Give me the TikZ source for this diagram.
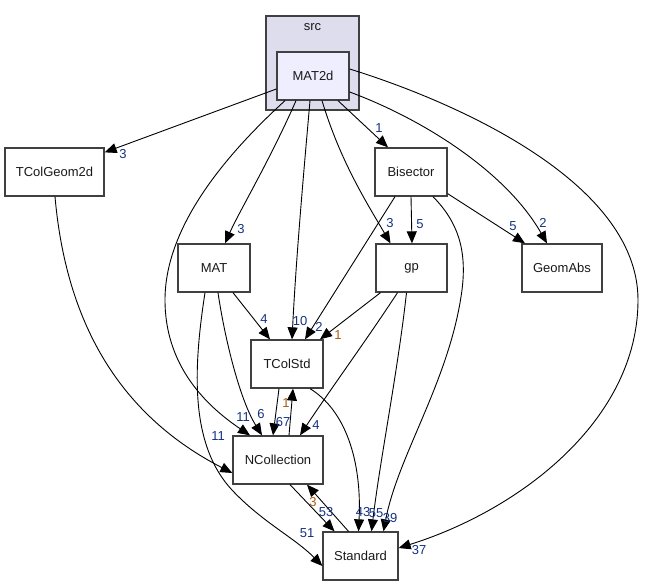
\documentclass[tikz,border=0pt]{standalone}
\usepackage{fontspec}
\setmainfont{Liberation Sans}
\usetikzlibrary{arrows.meta}
\definecolor{lblue}{RGB}{20,50,130}
\definecolor{lorange}{RGB}{170,90,20}
\definecolor{boxgray}{RGB}{64,64,64}
\definecolor{clusterfill}{RGB}{221,221,238}
\definecolor{dirfill}{RGB}{238,238,255}
\tikzset{
  dirbox/.style={draw=boxgray, line width=1.3pt, fill=white, minimum height=48pt, inner sep=0pt, font=\fontsize{13}{15}\selectfont, text=black!90},
  dep/.style={draw=black, line width=0.9pt, -{Triangle[length=12pt,width=10pt]}},
  lbl/.style={text=lblue, font=\fontsize{13}{15}\selectfont, inner sep=0pt},
  lblo/.style={text=lorange, font=\fontsize{13}{15}\selectfont, inner sep=0pt}
}
\begin{document}
\begin{tikzpicture}[x=1pt,y=-1pt]
\useasboundingbox (0,0) rectangle (645,585);
% cluster
\node[draw=boxgray, line width=1.3pt, fill=clusterfill, minimum width=93pt, minimum height=94pt, inner sep=0pt] (src) at (312.5,63) {};
\node[text=black!90, font=\fontsize{13}{15}\selectfont, inner sep=0pt] (srclbl) at (312.5,27) {src};
% nodes
\node[dirbox, fill=dirfill, minimum width=72pt] (MAT2d) at (313,76) {MAT2d};
\node[dirbox, minimum width=99pt] (TColGeom2d) at (54.5,172) {TColGeom2d};
\node[dirbox, minimum width=72pt] (Bisector) at (411,172) {Bisector};
\node[dirbox, minimum width=72pt] (MAT) at (214,268) {MAT};
\node[dirbox, minimum width=71pt] (gp) at (411.5,268) {gp};
\node[dirbox, minimum width=80pt] (GeomAbs) at (562,268) {GeomAbs};
\node[dirbox, minimum width=72pt] (TColStd) at (287,364) {TColStd};
\node[dirbox, minimum width=90pt] (NCollection) at (278,460) {NCollection};
\node[dirbox, minimum width=75pt] (Standard) at (360.5,556) {Standard};

% MAT2d edges
\draw[dep] ([yshift=-13pt]MAT2d.west) -- ([yshift=-5pt]TColGeom2d.north east);
\draw[dep] ([xshift=-17pt]MAT2d.south) .. controls (270,160) and (240,210) .. ([xshift=11pt]MAT.north);
\draw[dep] ([xshift=-28pt]MAT2d.south) .. controls (220,160) and (165,230) .. (165,300) .. controls (165,365) and (205,405) .. ([xshift=-28pt]NCollection.north);
\draw[dep] ([xshift=-3pt]MAT2d.south) .. controls (303,180) and (296,260) .. ([xshift=5pt]TColStd.north);
\draw[dep] ([xshift=9pt]MAT2d.south) .. controls (340,160) and (365,200) .. ([xshift=-21pt]gp.north);
\draw[dep] ([xshift=25pt]MAT2d.south) -- ([xshift=-23pt]Bisector.north);
\draw[dep] ([yshift=-16pt]MAT2d.east) .. controls (420,118) and (505,170) .. ([xshift=-15pt]GeomAbs.north);
\draw[dep] ([yshift=7pt]MAT2d.east) .. controls (450,100) and (638,180) .. (638,300) .. controls (638,420) and (520,510) .. ([yshift=8pt]Standard.east);

% Bisector edges
\draw[dep] (Bisector.south) -- ([xshift=0.5pt]gp.north);
\draw[dep] ([yshift=3pt]Bisector.south east) -- ([xshift=-37pt]GeomAbs.north);
\draw[dep] ([xshift=-16pt]Bisector.south) -- ([xshift=18pt]TColStd.north);
\draw[dep] ([xshift=22pt]Bisector.south) .. controls (458,222) and (467,250) .. (462,290) .. controls (450,380) and (398,455) .. ([xshift=23pt]Standard.north);

% gp edges
\draw[dep] ([xshift=-31pt]gp.south) -- ([xshift=33pt]TColStd.north);
\draw[dep] ([xshift=-14pt]gp.south) .. controls (370,335) and (330,390) .. ([xshift=22pt]NCollection.north);
\draw[dep] ([xshift=-5pt]gp.south) .. controls (398,370) and (380,460) .. ([xshift=11pt]Standard.north);

% MAT edges
\draw[dep] ([xshift=19pt]MAT.south) -- ([xshift=-17pt]TColStd.north);
\draw[dep] ([xshift=4pt]MAT.south) .. controls (225,340) and (240,400) .. ([xshift=-16pt]NCollection.north);
\draw[dep] ([xshift=-9pt]MAT.south) .. controls (193,370) and (190,445) .. (232,490) .. controls (262,522) and (295,538) .. ([yshift=-10pt]Standard.west);

% TColGeom2d
\draw[dep] ([xshift=0.5pt]TColGeom2d.south) .. controls (65,310) and (110,410) .. ([yshift=-13pt]NCollection.west);

% TColStd / NCollection / Standard
\draw[dep] ([xshift=-8pt]TColStd.south) -- ([xshift=-5pt]NCollection.north);
\draw[dep] ([xshift=11pt]NCollection.north) -- ([xshift=6pt]TColStd.south);
\draw[dep] ([xshift=23pt]TColStd.south) .. controls (345,410) and (362,460) .. ([xshift=-2pt]Standard.north);
\draw[dep] ([xshift=12pt]NCollection.south) -- ([xshift=-26pt]Standard.north);
\draw[dep] ([xshift=-12pt]Standard.north) -- ([xshift=29pt]NCollection.south);

% labels
\node[lbl] (l1) at (123,154) {3};
\node[lbl] (l2) at (241,229) {3};
\node[lbl] (l3) at (243,417) {11};
\node[lbl] (l4) at (300,321) {10};
\node[lbl] (l5) at (390,223) {3};
\node[lbl] (l6) at (379,128) {1};
\node[lbl] (l7) at (543,223) {2};
\node[lbl] (l8) at (419,550) {37};
\node[lbl] (l9) at (420,224) {5};
\node[lbl] (l10) at (513,226) {5};
\node[lbl] (l11) at (319,327) {2};
\node[lbl] (l12) at (390,518) {39};
\node[lblo] (l13) at (338,335) {1};
\node[lbl] (l14) at (316,425) {4};
\node[lbl] (l15) at (376,513) {55};
\node[lbl] (l16) at (264,319) {4};
\node[lbl] (l17) at (261,414) {6};
\node[lbl] (l18) at (307,533) {51};
\node[lbl] (l19) at (218,436) {11};
\node[lbl] (l20) at (283,422) {67};
\node[lblo] (l21) at (286,403) {1};
\node[lbl] (l22) at (363,512) {43};
\node[lbl] (l23) at (326,512) {53};
\node[lblo] (l24) at (313,502) {3};
\end{tikzpicture}
\end{document}
